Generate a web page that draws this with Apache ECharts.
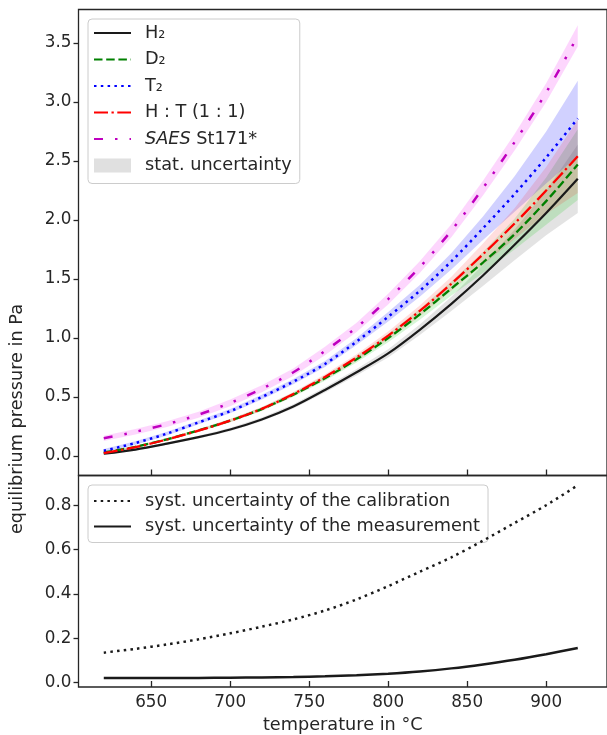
<!DOCTYPE html>
<html><head><meta charset="utf-8">
<script src="https://cdn.jsdelivr.net/npm/echarts@6/dist/echarts.min.js"></script>
<style>html,body{margin:0;padding:0;background:#fff}#c{width:607px;height:735px}</style>
</head><body><div id="c"></div>
<script>
// ---- data ----
const temperature = [620,640,660,680,700,720,740,760,780,800,820,840,860,880,900,920];

const H2    = [0.02,0.055,0.105,0.16,0.225,0.31,0.42,0.56,0.71,0.87,1.07,1.29,1.53,1.79,2.06,2.35];
const H2_lo = [0.01,0.045,0.095,0.148,0.211,0.294,0.402,0.538,0.683,0.835,1.025,1.23,1.44,1.66,1.87,2.06];
const H2_hi = [0.03,0.065,0.115,0.172,0.239,0.326,0.438,0.582,0.737,0.905,1.115,1.35,1.62,1.92,2.25,2.64];

const D2    = [0.03,0.078,0.142,0.218,0.30,0.398,0.52,0.66,0.82,1.0,1.2,1.42,1.64,1.88,2.16,2.47];
const D2_lo = [0.02,0.068,0.132,0.206,0.286,0.382,0.502,0.638,0.793,0.965,1.155,1.36,1.55,1.75,1.96,2.17];
const D2_hi = [0.04,0.088,0.152,0.23,0.314,0.414,0.538,0.682,0.847,1.035,1.245,1.48,1.73,2.01,2.36,2.77];

const T2    = [0.045,0.11,0.19,0.285,0.38,0.50,0.63,0.78,0.97,1.18,1.40,1.65,1.93,2.22,2.53,2.86];
const T2_lo = [0.03,0.095,0.175,0.269,0.362,0.48,0.608,0.755,0.94,1.14,1.35,1.58,1.83,2.07,2.31,2.54];
const T2_hi = [0.06,0.125,0.205,0.301,0.398,0.52,0.652,0.805,1.0,1.22,1.45,1.72,2.03,2.37,2.75,3.18];

const HT    = [0.025,0.075,0.14,0.215,0.30,0.40,0.525,0.67,0.835,1.02,1.23,1.46,1.71,1.97,2.25,2.54];
const HT_lo = [0.015,0.065,0.13,0.203,0.286,0.384,0.507,0.648,0.808,0.985,1.185,1.40,1.62,1.84,2.05,2.23];
const HT_hi = [0.035,0.085,0.15,0.227,0.314,0.416,0.543,0.692,0.862,1.055,1.275,1.52,1.80,2.10,2.45,2.85];

const SAES    = [0.15,0.205,0.27,0.35,0.45,0.57,0.71,0.89,1.09,1.33,1.60,1.91,2.27,2.66,3.08,3.56];
const SAES_lo = [0.128,0.182,0.246,0.324,0.422,0.54,0.678,0.854,1.05,1.285,1.55,1.855,2.208,2.59,3.0,3.47];
const SAES_hi = [0.172,0.228,0.294,0.376,0.478,0.60,0.742,0.926,1.13,1.375,1.65,1.965,2.332,2.73,3.16,3.65];

const calibration = [0.135,0.152,0.172,0.195,0.222,0.252,0.285,0.325,0.375,0.435,0.50,0.565,0.64,0.72,0.80,0.89];
const measurement = [0.021,0.021,0.021,0.021,0.022,0.023,0.025,0.028,0.033,0.04,0.05,0.064,0.082,0.103,0.128,0.156];

const xTicks = [650,700,750,800,850,900];
const yTicksTop = [0,0.5,1.0,1.5,2.0,2.5,3.0,3.5];
const yTicksBottom = [0,0.2,0.4,0.6,0.8];

// ---- chart ----
const FONT = 'DejaVu Sans';
const TXT = '#262626';
const FS = 16.8;   // tick labels
const FL = 17.7;   // legend + axis titles
const pairs = arr => temperature.map((t,i)=>[t,arr[i]]);

function line(name, arr, color, type, width, gi){
  return {type:'line', name, xAxisIndex:gi, yAxisIndex:gi, data:pairs(arr), symbol:'none',
    smooth:0.3, lineStyle:{color, width, type, cap:'butt'}, itemStyle:{color}, z:5, silent:true};
}
function band(lo, hi, color, name){
  return {type:'custom', name, xAxisIndex:0, yAxisIndex:0, silent:true, z:2,
    itemStyle:{color},
    data: temperature.map((t,i)=>[t, lo[i], hi[i]]),
    encode:{x:0, y:[1,2]},
    renderItem:(params, api) => {
      if (params.dataIndexInside !== 0) return null;
      const upper = temperature.map((t,i)=>api.coord([t, hi[i]]));
      const lower = temperature.map((t,i)=>api.coord([t, lo[i]])).reverse();
      return {type:'polygon', shape:{points: upper.concat(lower)}, style:{fill:color}};
    }
  };
}

const axisCommon = (gi, min, max) => ({
  gridIndex:gi, type:'value', min, max,
  axisLine:{show:false, onZero:false},
  splitLine:{show:false}
});
const yLabel = vals => ({show:true, customValues:vals, margin:7, color:TXT, fontFamily:FONT, fontSize:FS,
  padding:[4,0,0,0], formatter:v=>v.toFixed(1)});

const option = {
  animation:false,
  backgroundColor:'#fff',
  grid:[
    {left:78.5, top:9.5, width:530, height:466, show:true, borderColor:TXT, borderWidth:1.3, backgroundColor:'transparent'},
    {left:78.5, top:475.5, width:530, height:212.2, show:true, borderColor:TXT, borderWidth:1.3, backgroundColor:'transparent'}
  ],
  xAxis:[
    Object.assign(axisCommon(0, 604, 938.5), {
      axisTick:{show:true, inside:true, length:6, lineStyle:{color:TXT, width:1.3}, customValues:xTicks},
      axisLabel:{show:false}
    }),
    Object.assign(axisCommon(1, 604, 938.5), {
      axisTick:{show:true, inside:true, length:6, lineStyle:{color:TXT, width:1.3}, customValues:xTicks},
      axisLabel:{show:true, customValues:xTicks, margin:7, color:TXT, fontFamily:FONT, fontSize:FS},
      name:'temperature in °C', nameLocation:'middle', nameGap:29,
      nameTextStyle:{color:TXT, fontFamily:FONT, fontSize:FL}
    })
  ],
  yAxis:[
    Object.assign(axisCommon(0, -0.165, 3.784), {
      axisTick:{show:true, inside:false, length:5, lineStyle:{color:TXT, width:1.3}, customValues:yTicksTop},
      axisLabel:yLabel(yTicksTop)
    }),
    Object.assign(axisCommon(1, -0.02, 0.934), {
      axisTick:{show:true, inside:false, length:5, lineStyle:{color:TXT, width:1.3}, customValues:yTicksBottom},
      axisLabel:yLabel(yTicksBottom)
    })
  ],
  legend:[
    {
      selectedMode:false, orient:'vertical', left:88, top:19,
      padding:[4,8,8,5], itemGap:6.5, itemWidth:37, itemHeight:14,
      itemStyle:{opacity:0},
      backgroundColor:'rgba(255,255,255,0.85)', borderColor:'#cccccc', borderWidth:1, borderRadius:4,
      textStyle:{fontFamily:FONT, fontSize:FL, color:TXT, lineHeight:20, padding:[0,0,0,9],
        rich:{i:{fontStyle:'italic', fontFamily:FONT, fontSize:FL, color:TXT, lineHeight:20}}},
      formatter: n => n==='SAES St171*' ? '{i|SAES} St171*' : n,
      data:['H₂','D₂','T₂','H : T (1 : 1)','SAES St171*',
        {name:'stat. uncertainty', icon:'rect', itemStyle:{color:'#e0e0e0', opacity:1}}]
    },
    {
      selectedMode:false, orient:'vertical', left:88, top:485,
      padding:[6,8,6,5], itemGap:5.5, itemWidth:37, itemHeight:14,
      itemStyle:{opacity:0},
      backgroundColor:'rgba(255,255,255,0.85)', borderColor:'#cccccc', borderWidth:1, borderRadius:4,
      textStyle:{fontFamily:FONT, fontSize:FL, color:TXT, lineHeight:20, padding:[0,0,0,9]},
      data:['syst. uncertainty of the calibration','syst. uncertainty of the measurement']
    }
  ],
  graphic:[
    {type:'text', x:17.5, y:419, rotation:Math.PI/2,
      style:{text:'equilibrium pressure in Pa', fill:TXT, font:FL+'px "'+FONT+'"', align:'center', verticalAlign:'middle'}}
  ],
  series:[
    band(H2_lo, H2_hi, 'rgba(0,0,0,0.11)', 'stat. uncertainty'),
    band(D2_lo, D2_hi, 'rgba(0,200,0,0.16)', 'D₂ band'),
    band(T2_lo, T2_hi, 'rgba(0,0,255,0.18)', 'T₂ band'),
    band(HT_lo, HT_hi, 'rgba(255,0,0,0.13)', 'H : T band'),
    band(SAES_lo, SAES_hi, 'rgba(240,0,240,0.16)', 'SAES band'),
    line('H₂', H2, '#1a1a1a', 'solid', 2.2, 0),
    line('D₂', D2, '#008000', [8.5,3.7], 2.3, 0),
    line('T₂', T2, '#0000ff', [2.5,4.3], 2.5, 0),
    line('H : T (1 : 1)', HT, '#ff0000', [14,3.5,2.3,3.5], 2.3, 0),
    line('SAES St171*', SAES, '#bf00bf', [9,12,2.5,12,2.5,12], 2.5, 0),
    line('syst. uncertainty of the calibration', calibration, '#1a1a1a', [2.5,4.2], 2.5, 1),
    line('syst. uncertainty of the measurement', measurement, '#1a1a1a', 'solid', 2.5, 1)
  ]
};
const chart = echarts.init(document.getElementById('c'), null, {renderer:'canvas'});
chart.setOption(option);
</script>
</body></html>
